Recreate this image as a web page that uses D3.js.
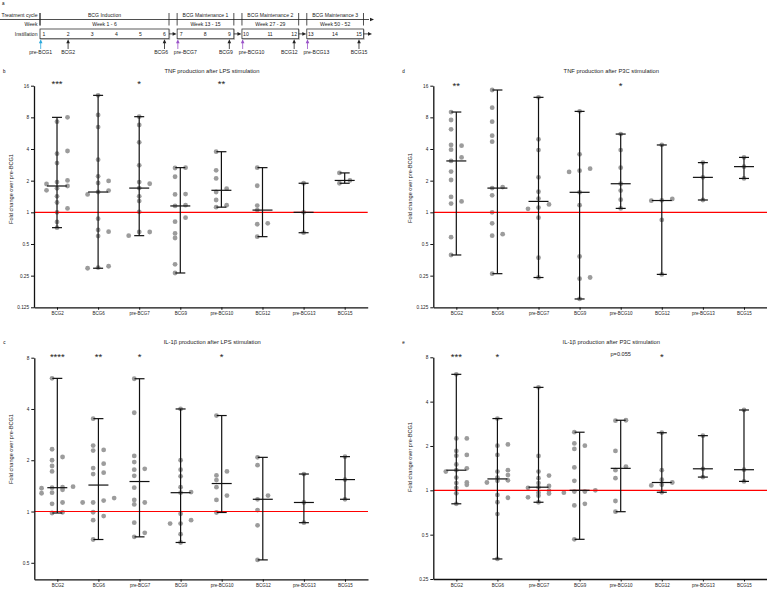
<!DOCTYPE html>
<html>
<head>
<meta charset="utf-8">
<script src="https://cdn.jsdelivr.net/npm/d3@7"></script>
<style>
body { margin: 0; background: #fff; }
svg { display: block; font-family: "Liberation Sans", Arial, sans-serif; }
</style>
</head>
<body>
<svg id="fig" width="767" height="589"></svg>
<script>
// ---- data ----
var categories = ["BCG2", "BCG6", "pre-BCG7", "BCG9", "pre-BCG10", "BCG12", "pre-BCG13", "BCG15"];

// fold change over pre-BCG1, one array per time point
var tnfLps = [
  [8, 7.28, 3.61, 3.83, 2.94, 1.86, 1.94, 2.01, 1.78, 1.62, 1.69, 1.42, 1.24, 1.09, 1.0, 0.81, 0.715],
  [12.95, 8.42, 6.47, 3.17, 2.2, 1.99, 1.9, 1.61, 1.48, 1.56, 0.87, 0.68, 0.655, 0.595, 0.298, 0.294, 0.307],
  [8.12, 6.77, 4.63, 2.8, 1.87, 1.94, 1.42, 1.7, 1.28, 1.01, 0.65, 0.65, 0.6],
  [2.64, 2.66, 2.18, 1.49, 1.48, 1.17, 1.15, 0.89, 0.815, 0.63, 0.57, 0.32, 0.265],
  [3.77, 2.51, 2.1, 1.68, 1.56, 1.31, 1.12, 1.17],
  [2.66, 1.79, 1.16, 1.05, 0.786, 0.77, 0.587],
  [1.89, 1.0, 0.64],
  [2.37, 2.01, 1.89]
];
var tnfP3c = [
  [8.99, 7.55, 6.15, 4.37, 4.3, 3.94, 3.33, 3.08, 2.44, 2.03, 1.4, 1.27, 1.21, 0.58, 0.393],
  [14.56, 9.88, 7.28, 5.36, 4.7, 1.74, 1.7, 1.45, 1.0, 0.786, 0.62, 0.6, 0.261],
  [12.4, 4.94, 3.91, 2.15, 1.57, 1.35, 1.19, 1.11, 1.08, 0.89, 0.37, 0.24],
  [9.12, 3.56, 2.6, 2.49, 2.42, 1.55, 1.17, 0.38, 0.24, 0.234, 0.15],
  [5.55, 3.91, 2.66, 1.87, 1.61, 1.32, 1.09],
  [4.37, 1.34, 1.3, 1.29, 0.846, 0.257],
  [2.97, 2.15, 1.31],
  [3.33, 2.72, 2.1]
];
var il1bLps = [
  [6.05, 2.32, 2.09, 2.0, 1.85, 1.72, 1.4, 1.39, 1.38, 1.37, 1.34, 1.29, 1.28, 1.13, 1.11, 0.99, 0.98],
  [3.51, 2.44, 2.3, 2.28, 1.91, 1.8, 1.69, 1.66, 1.2, 1.16, 1.13, 1.13, 0.99, 0.94, 0.89, 0.685],
  [6.02, 3.8, 2.12, 1.95, 1.78, 1.76, 1.62, 1.38, 1.17, 1.13, 1.1, 0.86, 0.75, 0.71],
  [4.0, 2.0, 1.76, 1.61, 1.39, 1.3, 1.29, 0.97, 0.89, 0.85, 0.85, 0.736, 0.658],
  [3.66, 1.72, 1.63, 1.53, 1.39, 1.24, 1.17, 0.987],
  [2.08, 1.87, 1.24, 1.18, 1.02, 0.83, 0.52],
  [1.66, 1.13, 0.86],
  [2.1, 1.54, 1.18]
];
var il1bP3c = [
  [6.13, 2.25, 2.25, 1.85, 1.74, 1.72, 1.5, 1.41, 1.37, 1.34, 1.22, 1.13, 1.12, 1.09, 1.04, 0.954, 0.81],
  [3.07, 2.05, 2.01, 1.74, 1.37, 1.34, 1.27, 1.22, 1.17, 1.16, 1.13, 0.93, 0.89, 0.83, 0.69, 0.342],
  [5.0, 1.71, 1.34, 1.26, 1.21, 1.12, 1.07, 1.05, 1.04, 0.995, 0.964, 0.95, 0.92, 0.896, 0.83],
  [2.48, 2.08, 2.01, 1.91, 1.43, 1.16, 1.0, 0.98, 0.98, 0.964, 0.81, 0.79, 0.465],
  [2.99, 2.97, 1.85, 1.45, 1.37, 1.21, 0.846, 0.716],
  [2.46, 1.37, 1.18, 1.13, 1.09, 1.08, 0.97],
  [2.35, 1.4, 1.23],
  [3.51, 1.38, 1.15]
];

var tnfLpsStars  = ["***", "", "*", "", "**", "", "", ""];
var tnfP3cStars  = ["**", "", "", "", "*", "", "", ""];
var il1bLpsStars = ["****", "**", "*", "", "*", "", "", ""];
var il1bP3cStars = ["***", "*", "", "", "p=0.055", "*", "", ""];

var ticksTnf = [0.125, 0.25, 0.5, 1, 2, 4, 8, 16];
var ticksIl1bLps = [0.5, 1, 2, 4, 8];
var ticksIl1bP3c = [0.25, 0.5, 1, 2, 4, 8];

// timeline (panel a)
var phaseNames = ["BCG Induction", "BCG Maintenance 1", "BCG Maintenance 2", "BCG Maintenance 3"];
var phaseWeeks = ["Week 1 - 6", "Week 13 - 15", "Week 27 - 29", "Week 50 - 52"];
var phaseFirst = [1, 7, 10, 13];
var phaseLast = [6, 9, 12, 15];
var sampleLabels = ["pre-BCG1", "BCG2", "BCG6", "pre-BCG7", "BCG9", "pre-BCG10", "BCG12", "pre-BCG13", "BCG15"];
var sampleAt = [1, 2, 6, 7, 9, 10, 12, 13, 15];
var samplePre = [true, false, false, true, false, true, false, true, false];

// ---- drawing ----
var svg = d3.select("#fig");
var font = "Liberation Sans, Arial, sans-serif";

function arrowHead(g, x, y, dir, color) {
  // small filled triangle, dir: "right" or "up"
  var p = dir == "right"
    ? [[x, y], [x - 4, y - 1.8], [x - 4, y + 1.8]]
    : [[x, y], [x - 1.8, y + 4], [x + 1.8, y + 4]];
  g.append("path").attr("d", "M" + p.join("L") + "Z").attr("fill", color);
}

// panel a
var tl = svg.append("g");
tl.append("text").attr("x", 2).attr("y", 5).attr("font-size", 4.5).text("a");

function phaseOf(n) { return d3.bisectRight(phaseFirst, n) - 1; }
var slot = d3.scaleLinear().domain([0, 14]).range([44, 44 + 14 * 24.1]);
function numX(n) { return slot(n - 1 - 0.31 * phaseOf(n)); }
function boxL(i) { return numX(phaseFirst[i]) - 4; }
function boxR(i) { return numX(phaseLast[i]) + 4.5; }

var rowLabels = ["Treatment cycle", "Week", "Instillation"];
var rowY = [17.2, 25.6, 35.6];
rowLabels.forEach(function(t, i) {
  tl.append("text").attr("x", 37.5).attr("y", rowY[i]).attr("text-anchor", "end")
    .attr("font-size", 5.1).attr("fill", "#222").text(t);
});

tl.append("line").attr("x1", 0).attr("x2", 369).attr("y1", 19.5).attr("y2", 19.5)
  .attr("stroke", "#222").attr("stroke-width", 0.8);
arrowHead(tl, 374, 19.5, "right", "#222");
tl.append("line").attr("x1", 40).attr("x2", 40).attr("y1", 13).attr("y2", 25.5)
  .attr("stroke", "#222").attr("stroke-width", 0.8);

phaseNames.forEach(function(name, i) {
  var l = boxL(i), r = boxR(i), c = (l + r) / 2;
  [l, r].forEach(function(xx) {
    tl.append("line").attr("x1", xx).attr("x2", xx).attr("y1", 13).attr("y2", 25.5)
      .attr("stroke", "#222").attr("stroke-width", 0.8);
  });
  tl.append("text").attr("x", c).attr("y", 17.2).attr("text-anchor", "middle")
    .attr("font-size", 5.1).attr("fill", "#222").text(name);
  tl.append("text").attr("x", c).attr("y", 25.6).attr("text-anchor", "middle")
    .attr("font-size", 5.1).attr("fill", "#222").text(phaseWeeks[i]);
  tl.append("rect").attr("x", l + 0.8).attr("y", 29.8).attr("width", r - l).attr("height", 9.7)
    .attr("fill", "none").attr("stroke", "#bbb").attr("stroke-width", 0.8);
  tl.append("rect").attr("x", l).attr("y", 29).attr("width", r - l).attr("height", 9.7)
    .attr("fill", "#fff").attr("stroke", "#333").attr("stroke-width", 0.8);
  var nextL = i < 3 ? boxL(i + 1) : r + 9;
  tl.append("line").attr("x1", r).attr("x2", nextL - 3).attr("y1", 33.9).attr("y2", 33.9)
    .attr("stroke", "#222").attr("stroke-width", 0.8);
  arrowHead(tl, nextL - 0.5, 33.9, "right", "#222");
});

d3.range(1, 16).forEach(function(n) {
  tl.append("text").attr("x", numX(n)).attr("y", 35.6).attr("text-anchor", "middle")
    .attr("font-size", 5.1).attr("fill", "#222").text(n);
});

sampleLabels.forEach(function(lab, i) {
  var n = sampleAt[i];
  var xx = samplePre[i] ? boxL(phaseOf(n)) + 0.7 : numX(n);
  var col = samplePre[i] ? (i == 0 ? "#2aa8dc" : "#9a52c8") : "#222";
  tl.append("line").attr("x1", xx).attr("x2", xx).attr("y1", 49).attr("y2", 42)
    .attr("stroke", col).attr("stroke-width", 0.8);
  arrowHead(tl, xx, 39.2, "up", col);
  var anchor = "middle", tx = xx;
  if (samplePre[i] && i > 0) { anchor = "start"; tx = xx - 4; }
  else if (!samplePre[i] && samplePre[i + 1]) { anchor = "end"; tx = xx + 3.5; }
  tl.append("text").attr("x", tx).attr("y", 54.3).attr("text-anchor", anchor)
    .attr("font-size", 5.1).attr("fill", "#222").text(lab);
});

// beeswarm layout like the GraphPad scatter
function swarm(vals, y, binH, step, maxW) {
  var pts = vals.map(function(v) { return {v: v, py: y(v)}; })
    .sort(function(a, b) { return a.v - b.v; });
  var rows = [], row = null;
  pts.forEach(function(p) {
    if (row && row[0].py - p.py <= binH) row.push(p);
    else { row = [p]; rows.push(row); }
  });
  var m = d3.max(rows, function(r) { return r.length; });
  var s = m > 1 ? Math.min(step, maxW / (m - 1)) : step;
  var cols = d3.range(m).map(function(j) { return (j - (m - 1) / 2) * s; });
  var order = cols.slice().sort(function(a, b) {
    return (Math.abs(a) - Math.abs(b)) || (m % 2 ? b - a : a - b);
  });
  rows.forEach(function(r) {
    var chosen = order.slice(0, r.length).sort(d3.ascending);
    r.forEach(function(p, k) { p.dx = chosen[k]; });
  });
  return pts;
}

var panels = [
  {label: "b", title: "TNF production after LPS stimulation", data: tnfLps, stars: tnfLpsStars,
   ticks: ticksTnf, domain: [0.125, 16], x0: 34, y0: 85.7, y1: 307.3, titleY: 72.6, starY: 87.2, labY: 189},
  {label: "d", title: "TNF production after P3C stimulation", data: tnfP3c, stars: tnfP3cStars,
   ticks: ticksTnf, domain: [0.125, 16], x0: 433.3, y0: 85.7, y1: 307.3, titleY: 72.6, starY: 88.6, labY: 188},
  {label: "c", title: "IL-1\u03b2 production after LPS stimulation", data: il1bLps, stars: il1bLpsStars,
   ticks: ticksIl1bLps, domain: [0.4, 8], x0: 34.3, y0: 357.7, y1: 579.3, titleY: 344, starY: 359.5, labY: 449},
  {label: "e", title: "IL-1\u03b2 production after P3C stimulation", data: il1bP3c, stars: il1bP3cStars,
   ticks: ticksIl1bP3c, domain: [0.25, 8], x0: 433.3, y0: 357.3, y1: 579, titleY: 344, starY: 359.5, labY: 457}
];
var axisW = 333.7;

panels.forEach(function(p) {
  var g = svg.append("g");
  var x = d3.scalePoint().domain(categories).range([p.x0, p.x0 + axisW]).padding(0.56);
  var y = d3.scaleLog().base(2).domain(p.domain).range([p.y1, p.y0]);

  g.append("text").attr("x", p.x0 - 31).attr("y", p.titleY).attr("font-size", 4.5).text(p.label);
  g.append("text").attr("x", p.x0 + 178).attr("y", p.titleY).attr("text-anchor", "middle")
    .attr("font-size", 5.8).attr("fill", "#222").text(p.title);
  g.append("text").attr("transform", "translate(" + (p.x0 - 21) + "," + p.labY + ") rotate(-90)")
    .attr("text-anchor", "middle").attr("font-size", 5.6).attr("fill", "#222")
    .text("Fold change over pre-BCG1");

  // dots
  p.data.forEach(function(vals, i) {
    var pts = swarm(vals, y, 4.5, 10.5, 33);
    g.selectAll(null).data(pts).enter().append("circle")
      .attr("cx", function(d) { return x(categories[i]) + d.dx; })
      .attr("cy", function(d) { return d.py; })
      .attr("r", 2.4)
      .attr("fill", "#9c9c9c");
  });

  // reference line at 1
  g.append("line").attr("x1", p.x0).attr("x2", p.x0 + axisW)
    .attr("y1", y(1)).attr("y2", y(1)).attr("stroke", "red").attr("stroke-width", 1.2);

  // median with range
  p.data.forEach(function(vals, i) {
    var cx = x(categories[i]);
    var lo = d3.min(vals), hi = d3.max(vals), med = d3.median(vals);
    var eb = g.append("g").attr("stroke", "#111").attr("stroke-width", 1.2);
    eb.append("line").attr("x1", cx).attr("x2", cx).attr("y1", y(lo)).attr("y2", y(hi));
    [lo, hi].forEach(function(v) {
      eb.append("line").attr("x1", cx - 5).attr("x2", cx + 5).attr("y1", y(v)).attr("y2", y(v));
    });
    eb.append("line").attr("x1", cx - 10).attr("x2", cx + 10).attr("y1", y(med)).attr("y2", y(med));
  });

  // significance
  p.stars.forEach(function(s, i) {
    if (!s) return;
    var isP = s.charAt(0) == "p";
    g.append("text").attr("x", x(categories[i])).attr("y", isP ? p.starY - 3.3 : p.starY)
      .attr("text-anchor", "middle")
      .attr("font-size", isP ? 5.6 : 9.5)
      .attr("fill", "#222").text(s);
  });

  // axes
  var ya = g.append("g").attr("transform", "translate(" + p.x0 + ",0)")
    .call(d3.axisLeft(y).tickValues(p.ticks).tickFormat(d3.format("")).tickSize(3).tickSizeOuter(0).tickPadding(2));
  var xa = g.append("g").attr("transform", "translate(0," + p.y1 + ")")
    .call(d3.axisBottom(x).tickSize(2.5).tickSizeOuter(0).tickPadding(2.5));
  [ya, xa].forEach(function(a) {
    a.select(".domain").attr("stroke", "#111").attr("stroke-width", 1.3);
    a.selectAll(".tick line").attr("stroke", "#111").attr("stroke-width", 1);
    a.selectAll(".tick text").attr("font-family", font).attr("fill", "#222");
  });
  ya.selectAll(".tick text").attr("font-size", 4.7);
  xa.selectAll(".tick text").attr("font-size", 4.5);
});
</script>
</body>
</html>
